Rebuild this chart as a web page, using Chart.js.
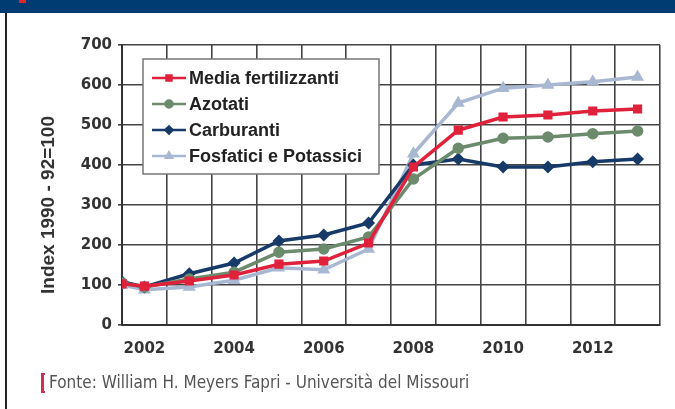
<!DOCTYPE html>
<html lang="it">
<head>
    <meta charset="UTF-8">
    <title>Indice prezzi fertilizzanti e carburanti</title>
    <style>
        body {
            margin: 0;
            background: #fff;
            font-family: "Liberation Sans", Arial, sans-serif;
        }
        .frame {
            position: relative;
            width: 675px;
            height: 409px;
            overflow: hidden;
            background: #fff;
        }
        .banner {
            position: absolute;
            left: 0; top: 0;
            width: 675px; height: 13px;
            background: #003b72;
        }
        .banner-mark {
            position: absolute;
            left: 19px; top: 0;
            width: 7px; height: 3px;
            background: #e3262e;
        }
        .side-line {
            position: absolute;
            left: 5px; top: 13px;
            width: 2px; height: 396px;
            background: #222;
        }
        .source {
            position: absolute;
            left: 41px; top: 372px;
            font-family: "Liberation Sans Narrow", "DejaVu Sans Condensed", Arial, sans-serif;
            font-size: 17px;
            color: #555;
            line-height: 20px;
        }
        .source .bracket {
            display: inline-block;
            width: 4px; height: 20px;
            border-left: 3px solid #d32f4d;
            border-top: 2px solid #d32f4d;
            border-bottom: 2px solid #d32f4d;
            vertical-align: middle;
            margin-right: 4px;
            box-sizing: border-box;
        }
        canvas {
            position: absolute;
            left: 0; top: 0;
        }
    </style>
    <script src="https://cdn.jsdelivr.net/npm/chart.js"></script>
</head>
<body>
<div class="frame">
    <div class="banner"><div class="banner-mark"></div></div>
    <div class="side-line"></div>
    <canvas id="priceChart" width="675" height="409"></canvas>
    <div class="source"><span class="bracket"></span>Fonte: William H. Meyers Fapri - Università del Missouri</div>
</div>

<script>
    // first point sits on the left edge of the axis
    const years = [2001.5, 2002, 2003, 2004, 2005, 2006, 2007, 2008, 2009, 2010, 2011, 2012, 2013];
    const xTickLabels = [2002, 2004, 2006, 2008, 2010, 2012];

    const mediaFertilizzanti = [103, 97, 110, 125, 152, 160, 205, 395, 487, 520, 525, 535, 540];
    const azotati = [105, 95, 115, 132, 182, 190, 220, 365, 442, 467, 470, 478, 485];
    const carburanti = [108, 95, 128, 155, 210, 225, 255, 400, 415, 395, 395, 408, 415];
    const fosfatici = [100, 88, 95, 112, 143, 138, 190, 428, 555, 592, 600, 608, 620];

    const seriesNames = ['Media fertilizzanti', 'Azotati', 'Carburanti', 'Fosfatici e Potassici'];
    const seriesColors = ['#e0213c', '#6b8b6c', '#173a68', '#a8b7d2'];
    const seriesPoints = ['rect', 'circle', 'rectRot', 'triangle'];
    const yTitle = 'Index 1990 - 92=100';

    function toPoints(values) {
        return values.map((v, i) => ({ x: years[i], y: v }));
    }

    const seriesValues = [mediaFertilizzanti, azotati, carburanti, fosfatici];

    const datasets = seriesValues.map((values, i) => ({
        label: seriesNames[i],
        data: toPoints(values),
        borderColor: seriesColors[i],
        backgroundColor: seriesColors[i],
        pointBackgroundColor: seriesColors[i],
        pointBorderColor: seriesColors[i],
        pointStyle: seriesPoints[i],
        pointRadius: 4,
        borderWidth: 3.5,
        tension: 0
    }));

    // legend box inside the plot + y title sitting a bit below centre like the original
    const boxLegend = {
        id: 'boxLegend',
        afterDatasetsDraw(chart) {
            const { ctx, chartArea } = chart;
            const x0 = chartArea.left + 21;
            const y0 = chartArea.top + 14;
            const w = 236, h = 115;
            ctx.save();
            ctx.fillStyle = '#fff';
            ctx.fillRect(x0, y0, w, h);
            ctx.strokeStyle = '#777';
            ctx.lineWidth = 1.5;
            ctx.strokeRect(x0, y0, w, h);
            ctx.font = 'bold 18px "Liberation Sans", Arial, sans-serif';
            ctx.textBaseline = 'middle';
            chart.data.datasets.forEach((ds, i) => {
                const cy = y0 + 19 + i * 26;
                ctx.strokeStyle = ds.borderColor;
                ctx.lineWidth = 2.5;
                ctx.beginPath();
                ctx.moveTo(x0 + 9, cy);
                ctx.lineTo(x0 + 43, cy);
                ctx.stroke();
                ctx.fillStyle = ds.borderColor;
                if (Chart.helpers && Chart.helpers.drawPoint) {
                    Chart.helpers.drawPoint(ctx, { pointStyle: ds.pointStyle, radius: 3.5, rotation: 0, borderWidth: 1 }, x0 + 26, cy);
                }
                ctx.fillStyle = '#222';
                ctx.fillText(ds.label, x0 + 46, cy + 1);
            });

            ctx.translate(chartArea.left - 73, chartArea.top + 160);
            ctx.rotate(-Math.PI / 2);
            ctx.textAlign = 'center';
            ctx.textBaseline = 'middle';
            ctx.fillStyle = '#333';
            ctx.font = 'bold 19px "Liberation Sans", Arial, sans-serif';
            ctx.fillText(yTitle, 0, 0);
            ctx.restore();
        }
    };

    new Chart(document.getElementById('priceChart').getContext('2d'), {
        type: 'line',
        data: { datasets: datasets },
        options: {
            responsive: false,
            animation: false,
            layout: { padding: { left: 30, right: 11, top: 45, bottom: 44 } },
            plugins: {
                legend: { display: false },
                tooltip: { enabled: false }
            },
            scales: {
                x: {
                    type: 'linear',
                    min: 2001.5,
                    max: 2013.5,
                    afterBuildTicks: scale => {
                        const ticks = [];
                        for (let v = scale.min; v <= scale.max + 0.01; v += 0.5) ticks.push({ value: v });
                        scale.ticks = ticks;
                    },
                    afterFit: scale => { scale.height = 40; },
                    grid: {
                        color: ctx => (ctx.tick && Number.isInteger(ctx.tick.value)) ? 'rgba(0,0,0,0)' : '#444',
                        lineWidth: 1.6,
                        drawTicks: false
                    },
                    border: { color: '#333', width: 2 },
                    ticks: {
                        autoSkip: false,
                        maxRotation: 0,
                        padding: 15,
                        color: '#333',
                        font: { family: '"DejaVu Sans", sans-serif', size: 15, weight: 'bold' },
                        callback: value => xTickLabels.includes(value) ? String(value) : ''
                    }
                },
                y: {
                    min: 0,
                    max: 700,
                    afterFit: scale => { scale.width = 92; },
                    grid: { color: '#444', lineWidth: 1.6, tickLength: 4 },
                    border: { color: '#333', width: 2 },
                    ticks: {
                        stepSize: 100,
                        padding: 6,
                        color: '#333',
                        font: { family: '"DejaVu Sans", sans-serif', size: 15, weight: 'bold' }
                    }
                }
            }
        },
        plugins: [boxLegend]
    });
</script>
</body>
</html>
